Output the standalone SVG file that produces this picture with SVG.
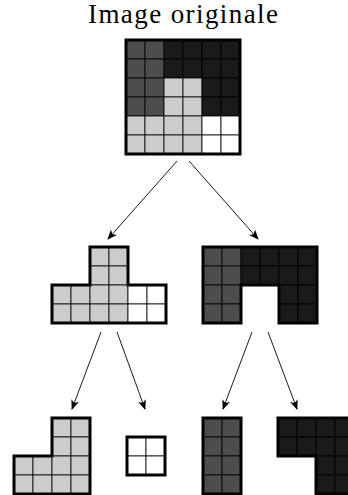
<svg xmlns="http://www.w3.org/2000/svg" width="348" height="495" viewBox="0 0 348 495">
  <defs>
    <style>
      .c { stroke: #000; stroke-width: 0.8; }
      .g { fill: #4d4d4d; }
      .b { fill: #1a1a1a; }
      .l { fill: #cccccc; }
      .w { fill: #ffffff; }
      .border { fill: none; stroke: #000; stroke-width: 3; stroke-linejoin: miter; }
      .edge { fill: none; stroke: #000; stroke-width: 0.9; }
      .title { font-family: "Liberation Serif", "Times New Roman", serif; font-size: 27px; fill: #000; }
    </style>
    <marker id="arrow" viewBox="0 0 10 10" refX="9" refY="5" markerWidth="10" markerHeight="10" markerUnits="userSpaceOnUse" orient="auto">
      <path d="M0,1 L10,5 L0,9 L2.5,5 Z" fill="#000"/>
    </marker>
  </defs>

  <rect width="348" height="495" fill="#fff"/>

  <!-- root: full 6x6 image -->
  <g id="root">
    <text class="title" x="183" y="23" text-anchor="middle" textLength="190" lengthAdjust="spacing">Image originale</text>
    <g class="c">
      <rect class="g" x="126" y="40" width="19" height="19"/><rect class="g" x="145" y="40" width="19" height="19"/>
      <rect class="b" x="164" y="40" width="19" height="19"/><rect class="b" x="183" y="40" width="19" height="19"/>
      <rect class="b" x="202" y="40" width="19" height="19"/><rect class="b" x="221" y="40" width="19" height="19"/>

      <rect class="g" x="126" y="59" width="19" height="19"/><rect class="g" x="145" y="59" width="19" height="19"/>
      <rect class="b" x="164" y="59" width="19" height="19"/><rect class="b" x="183" y="59" width="19" height="19"/>
      <rect class="b" x="202" y="59" width="19" height="19"/><rect class="b" x="221" y="59" width="19" height="19"/>

      <rect class="g" x="126" y="78" width="19" height="19"/><rect class="g" x="145" y="78" width="19" height="19"/>
      <rect class="l" x="164" y="78" width="19" height="19"/><rect class="l" x="183" y="78" width="19" height="19"/>
      <rect class="b" x="202" y="78" width="19" height="19"/><rect class="b" x="221" y="78" width="19" height="19"/>

      <rect class="g" x="126" y="97" width="19" height="19"/><rect class="g" x="145" y="97" width="19" height="19"/>
      <rect class="l" x="164" y="97" width="19" height="19"/><rect class="l" x="183" y="97" width="19" height="19"/>
      <rect class="b" x="202" y="97" width="19" height="19"/><rect class="b" x="221" y="97" width="19" height="19"/>

      <rect class="l" x="126" y="116" width="19" height="19"/><rect class="l" x="145" y="116" width="19" height="19"/>
      <rect class="l" x="164" y="116" width="19" height="19"/><rect class="l" x="183" y="116" width="19" height="19"/>
      <rect class="w" x="202" y="116" width="19" height="19"/><rect class="w" x="221" y="116" width="19" height="19"/>

      <rect class="l" x="126" y="135" width="19" height="19"/><rect class="l" x="145" y="135" width="19" height="19"/>
      <rect class="l" x="164" y="135" width="19" height="19"/><rect class="l" x="183" y="135" width="19" height="19"/>
      <rect class="w" x="202" y="135" width="19" height="19"/><rect class="w" x="221" y="135" width="19" height="19"/>
    </g>
    <rect class="border" x="126" y="40" width="114" height="114"/>
  </g>

  <!-- left child: light and white region -->
  <g id="light-region">
    <g class="c">
      <rect class="l" x="90" y="247" width="19" height="19"/><rect class="l" x="109" y="247" width="19" height="19"/>
      <rect class="l" x="90" y="266" width="19" height="19"/><rect class="l" x="109" y="266" width="19" height="19"/>
      <rect class="l" x="52" y="285" width="19" height="19"/><rect class="l" x="71" y="285" width="19" height="19"/>
      <rect class="l" x="90" y="285" width="19" height="19"/><rect class="l" x="109" y="285" width="19" height="19"/>
      <rect class="w" x="128" y="285" width="19" height="19"/><rect class="w" x="147" y="285" width="19" height="19"/>
      <rect class="l" x="52" y="304" width="19" height="19"/><rect class="l" x="71" y="304" width="19" height="19"/>
      <rect class="l" x="90" y="304" width="19" height="19"/><rect class="l" x="109" y="304" width="19" height="19"/>
      <rect class="w" x="128" y="304" width="19" height="19"/><rect class="w" x="147" y="304" width="19" height="19"/>
    </g>
    <path class="border" d="M90,247 H128 V285 H166 V323 H52 V285 H90 Z"/>
  </g>

  <!-- right child: dark region -->
  <g id="dark-region">
    <g class="c">
      <rect class="g" x="203" y="247" width="19" height="19"/><rect class="g" x="222" y="247" width="19" height="19"/>
      <rect class="b" x="241" y="247" width="19" height="19"/><rect class="b" x="260" y="247" width="19" height="19"/>
      <rect class="b" x="279" y="247" width="19" height="19"/><rect class="b" x="298" y="247" width="19" height="19"/>
      <rect class="g" x="203" y="266" width="19" height="19"/><rect class="g" x="222" y="266" width="19" height="19"/>
      <rect class="b" x="241" y="266" width="19" height="19"/><rect class="b" x="260" y="266" width="19" height="19"/>
      <rect class="b" x="279" y="266" width="19" height="19"/><rect class="b" x="298" y="266" width="19" height="19"/>
      <rect class="g" x="203" y="285" width="19" height="19"/><rect class="g" x="222" y="285" width="19" height="19"/>
      <rect class="b" x="279" y="285" width="19" height="19"/><rect class="b" x="298" y="285" width="19" height="19"/>
      <rect class="g" x="203" y="304" width="19" height="19"/><rect class="g" x="222" y="304" width="19" height="19"/>
      <rect class="b" x="279" y="304" width="19" height="19"/><rect class="b" x="298" y="304" width="19" height="19"/>
    </g>
    <path class="border" d="M203,247 H317 V323 H279 V285 H241 V323 H203 Z"/>
  </g>

  <!-- leaves -->
  <g id="light-leaf">
    <g class="c">
      <rect class="l" x="52" y="418" width="19" height="19"/><rect class="l" x="71" y="418" width="19" height="19"/>
      <rect class="l" x="52" y="437" width="19" height="19"/><rect class="l" x="71" y="437" width="19" height="19"/>
      <rect class="l" x="14" y="456" width="19" height="19"/><rect class="l" x="33" y="456" width="19" height="19"/>
      <rect class="l" x="52" y="456" width="19" height="19"/><rect class="l" x="71" y="456" width="19" height="19"/>
      <rect class="l" x="14" y="475" width="19" height="19"/><rect class="l" x="33" y="475" width="19" height="19"/>
      <rect class="l" x="52" y="475" width="19" height="19"/><rect class="l" x="71" y="475" width="19" height="19"/>
    </g>
    <path class="border" d="M52,418 H90 V494 H14 V456 H52 Z"/>
  </g>

  <g id="white-leaf">
    <g class="c">
      <rect class="w" x="127" y="437" width="19" height="19"/><rect class="w" x="146" y="437" width="19" height="19"/>
      <rect class="w" x="127" y="456" width="19" height="19"/><rect class="w" x="146" y="456" width="19" height="19"/>
    </g>
    <rect class="border" x="127" y="437" width="38" height="38"/>
  </g>

  <g id="gray-leaf">
    <g class="c">
      <rect class="g" x="203" y="418" width="19" height="19"/><rect class="g" x="222" y="418" width="19" height="19"/>
      <rect class="g" x="203" y="437" width="19" height="19"/><rect class="g" x="222" y="437" width="19" height="19"/>
      <rect class="g" x="203" y="456" width="19" height="19"/><rect class="g" x="222" y="456" width="19" height="19"/>
      <rect class="g" x="203" y="475" width="19" height="19"/><rect class="g" x="222" y="475" width="19" height="19"/>
    </g>
    <rect class="border" x="203" y="418" width="38" height="76"/>
  </g>

  <g id="black-leaf">
    <g class="c">
      <rect class="b" x="278" y="418" width="19" height="19"/><rect class="b" x="297" y="418" width="19" height="19"/>
      <rect class="b" x="316" y="418" width="19" height="19"/><rect class="b" x="335" y="418" width="19" height="19"/>
      <rect class="b" x="278" y="437" width="19" height="19"/><rect class="b" x="297" y="437" width="19" height="19"/>
      <rect class="b" x="316" y="437" width="19" height="19"/><rect class="b" x="335" y="437" width="19" height="19"/>
      <rect class="b" x="316" y="456" width="19" height="19"/><rect class="b" x="335" y="456" width="19" height="19"/>
      <rect class="b" x="316" y="475" width="19" height="19"/><rect class="b" x="335" y="475" width="19" height="19"/>
    </g>
    <path class="border" d="M278,418 H354 V494 H316 V456 H278 Z"/>
  </g>

  <!-- connectors -->
  <g id="edges" class="edge" marker-end="url(#arrow)">
    <line x1="177" y1="161" x2="108" y2="239"/>
    <line x1="189" y1="161" x2="258" y2="239"/>
    <line x1="101" y1="332" x2="72" y2="409"/>
    <line x1="117" y1="332" x2="145" y2="409"/>
    <line x1="252" y1="332" x2="223" y2="409"/>
    <line x1="268" y1="332" x2="297" y2="409"/>
  </g>
</svg>
